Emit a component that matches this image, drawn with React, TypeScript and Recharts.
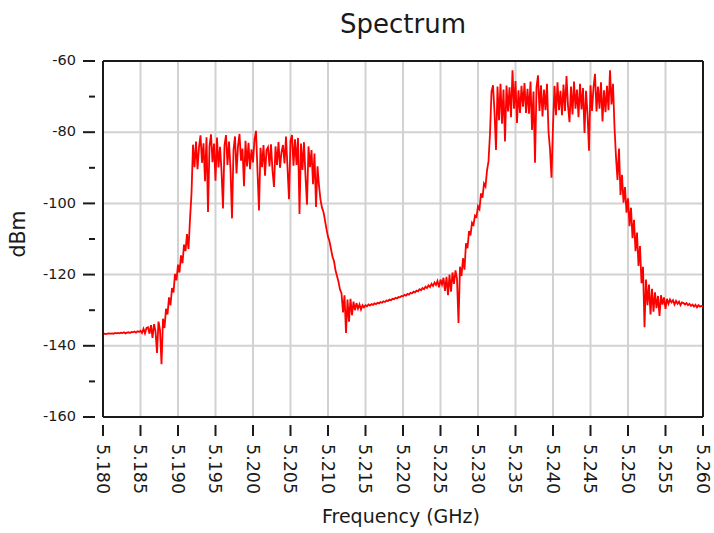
import { LineChart, Line, XAxis, YAxis, CartesianGrid, ReferenceLine, Customized } from "recharts";

// Sweep grid: first point and spacing in GHz
const sweepStartGHz = 5.18;
const sweepStepGHz = 0.0002;

// Measured level (dBm), one value per sweep point, 10 points per row
const levelDbm = [
  -136.7, -136.6, -136.7, -136.6, -136.5, -136.6, -136.5, -136.6, -136.4, -136.5,
  -136.4, -136.5, -136.3, -136.4, -136.2, -136.5, -136.3, -136.2, -136.4, -136.1,
  -136.2, -136.0, -136.3, -135.9, -136.1, -135.8, -136.4, -135.2, -136.5, -135.0,
  -134.8, -136.6, -134.2, -137.8, -133.9, -135.9, -142.0, -133.2, -135.5, -145.2,
  -132.4, -135.0, -129.6, -131.2, -126.4, -128.6, -123.8, -125.0, -119.8, -121.6,
  -117.2, -119.4, -114.6, -116.8, -111.6, -113.4, -108.6, -112.8, -104.5, -97.2,
  -83.5, -89.8, -82.6, -90.4, -84.2, -80.9, -88.6, -83.1, -93.8, -81.4,
  -102.4, -84.0, -80.6, -88.4, -83.2, -93.6, -81.5, -89.9, -84.1, -90.8,
  -101.4, -83.7, -80.8, -89.2, -82.6, -90.4, -104.2, -85.0, -81.2, -91.6,
  -83.9, -80.5, -88.0, -84.6, -95.2, -82.4, -89.6, -83.0, -90.4, -84.8,
  -88.5, -82.1, -79.6, -91.0, -102.0, -84.4, -89.8, -83.6, -92.2, -85.0,
  -84.2, -89.6, -83.4, -90.8, -95.4, -84.0, -89.2, -82.8, -90.0, -85.6,
  -83.6, -88.8, -81.2, -90.0, -98.8, -82.4, -80.8, -89.4, -82.0, -89.2,
  -81.6, -103.0, -83.2, -90.6, -82.8, -92.4, -100.4, -84.0, -89.8, -85.0,
  -94.6, -86.0, -101.0, -89.6, -95.0, -99.0, -101.2, -102.4, -104.8, -107.2,
  -109.4, -110.6, -112.8, -115.0, -116.2, -118.8, -120.4, -122.0, -124.2, -125.2,
  -130.6, -125.8, -136.4, -127.0, -133.2, -126.8, -131.4, -127.6, -130.0, -128.0,
  -129.6, -128.4, -129.8, -128.6, -129.2, -128.6, -128.9, -128.4, -128.7, -128.3,
  -128.5, -128.1, -128.3, -127.9, -128.1, -127.7, -127.9, -127.5, -127.7, -127.3,
  -127.4, -127.0, -127.2, -126.8, -126.9, -126.5, -126.7, -126.3, -126.4, -126.0,
  -126.1, -125.7, -125.9, -125.4, -125.6, -125.1, -125.3, -124.8, -125.0, -124.5,
  -124.7, -124.1, -124.4, -123.8, -124.1, -123.4, -123.8, -123.0, -123.5, -122.6,
  -123.2, -122.2, -122.9, -121.8, -123.6, -121.4, -122.8, -120.9, -124.6, -120.6,
  -125.8, -120.0, -124.8, -119.4, -122.6, -118.8, -121.2, -133.6, -117.8, -120.4,
  -115.4, -118.6, -111.2, -112.6, -107.8, -109.0, -105.4, -106.0, -103.4, -103.8,
  -100.8, -101.6, -97.2, -98.4, -94.4, -95.2, -90.8, -88.2, -80.4, -68.6,
  -66.8, -74.4, -85.0, -67.2, -76.6, -66.4, -77.6, -68.0, -82.6, -66.9,
  -74.2, -67.4, -75.8, -62.6, -73.4, -65.6, -77.4, -68.2, -74.6, -67.0,
  -72.8, -66.2, -74.6, -67.8, -74.8, -65.8, -79.4, -68.6, -88.6, -67.4,
  -64.0, -74.0, -66.8, -75.6, -68.0, -73.8, -66.4, -79.8, -84.8, -92.8,
  -78.2, -67.0, -75.2, -66.0, -73.8, -68.4, -75.2, -66.6, -74.0, -64.2,
  -72.6, -77.2, -67.2, -75.0, -65.8, -73.4, -68.0, -75.8, -66.4, -73.6,
  -67.6, -80.2, -68.4, -74.8, -85.2, -66.8, -74.0, -67.4, -63.6, -74.2,
  -67.2, -73.4, -66.0, -77.0, -68.2, -74.4, -67.0, -73.8, -62.6, -72.2,
  -66.4, -78.6, -87.0, -93.4, -84.6, -97.6, -92.0, -99.8, -95.4, -102.6,
  -98.6, -106.4, -101.2, -109.8, -104.6, -113.4, -108.2, -117.6, -112.0, -122.4,
  -117.8, -134.8, -121.4, -128.6, -122.8, -131.2, -124.0, -130.4, -125.0, -129.4,
  -126.0, -131.6, -125.8, -128.4, -126.4, -129.6, -126.8, -128.2, -127.0, -127.8,
  -127.2, -128.4, -127.4, -128.2, -127.6, -128.6, -127.8, -128.0, -128.4, -128.0,
  -128.6, -128.2, -128.8, -128.4, -129.0, -128.5, -129.2, -128.6, -129.0, -128.8,
  -128.9,
];

const freqTicks = [
  5.18, 5.185, 5.19, 5.195, 5.2, 5.205, 5.21, 5.215, 5.22,
  5.225, 5.23, 5.235, 5.24, 5.245, 5.25, 5.255, 5.26,
];
const dbmTicks = [-160, -150, -140, -130, -120, -110, -100, -90, -80, -70, -60];
const dbmMajor = [-160, -140, -120, -100, -80, -60];

const data = levelDbm.map((dbm, i) => ({
  f: Number((sweepStartGHz + i * sweepStepGHz).toFixed(4)),
  dbm,
}));

const FONT = "'DejaVu Sans', sans-serif";
const INK = "#1a1a1a";

const DbmTick = (props: any) => {
  const { x, y, payload } = props;
  const major = dbmMajor.includes(payload.value);
  return (
    <g>
      <line x1={x - (major ? 12 : 6)} x2={x} y1={y} y2={y} stroke={INK} strokeWidth={2} />
      {major && (
        <text x={x - 19} y={y - 1} dy="0.36em" textAnchor="end" fontSize={14.5} fontFamily={FONT} fill={INK}>
          {payload.value}
        </text>
      )}
    </g>
  );
};

const FreqTick = (props: any) => {
  const { x, y, payload } = props;
  return (
    <g transform={`translate(${x},${y})`}>
      <line x1={0} x2={0} y1={0} y2={11} stroke={INK} strokeWidth={2} />
      <text transform="rotate(90)" x={19} y={0} dy="0.36em" textAnchor="start" fontSize={17.5} fontFamily={FONT} fill={INK}>
        {payload.value.toFixed(3)}
      </text>
    </g>
  );
};

const Titles = () => (
  <g fontFamily={FONT} fill={INK}>
    <text x={403} y={33} textAnchor="middle" fontSize={26}>Spectrum</text>
    <text x={401} y={523} textAnchor="middle" fontSize={19}>Frequency (GHz)</text>
    <text transform="translate(25,234) rotate(-90)" textAnchor="middle" fontSize={20.5}>dBm</text>
  </g>
);

export default function App() {
  return (
    <div style={{ position: "absolute", left: 0, top: 0, background: "#fff" }}>
      <LineChart width={714} height={533} data={data} margin={{ top: 61, right: 11, left: 0, bottom: 0 }}>
        <CartesianGrid
          stroke="#d2d2d2"
          strokeWidth={2}
          verticalValues={freqTicks}
          horizontalValues={dbmMajor}
        />
        <XAxis
          dataKey="f"
          type="number"
          domain={[5.18, 5.26]}
          ticks={freqTicks}
          interval={0}
          height={116}
          tickLine={false}
          axisLine={{ stroke: INK, strokeWidth: 2 }}
          tick={<FreqTick />}
        />
        <YAxis
          type="number"
          domain={[-160, -60]}
          ticks={dbmTicks}
          interval={0}
          width={103}
          tickLine={false}
          axisLine={{ stroke: INK, strokeWidth: 2 }}
          tick={<DbmTick />}
        />
        <ReferenceLine y={-60} stroke={INK} strokeWidth={2} />
        <ReferenceLine x={5.26} stroke={INK} strokeWidth={2} />
        <Line
          type="linear"
          dataKey="dbm"
          stroke="#ff0000"
          strokeWidth={1.8}
          dot={false}
          isAnimationActive={false}
        />
        <Customized component={Titles} />
      </LineChart>
    </div>
  );
}
